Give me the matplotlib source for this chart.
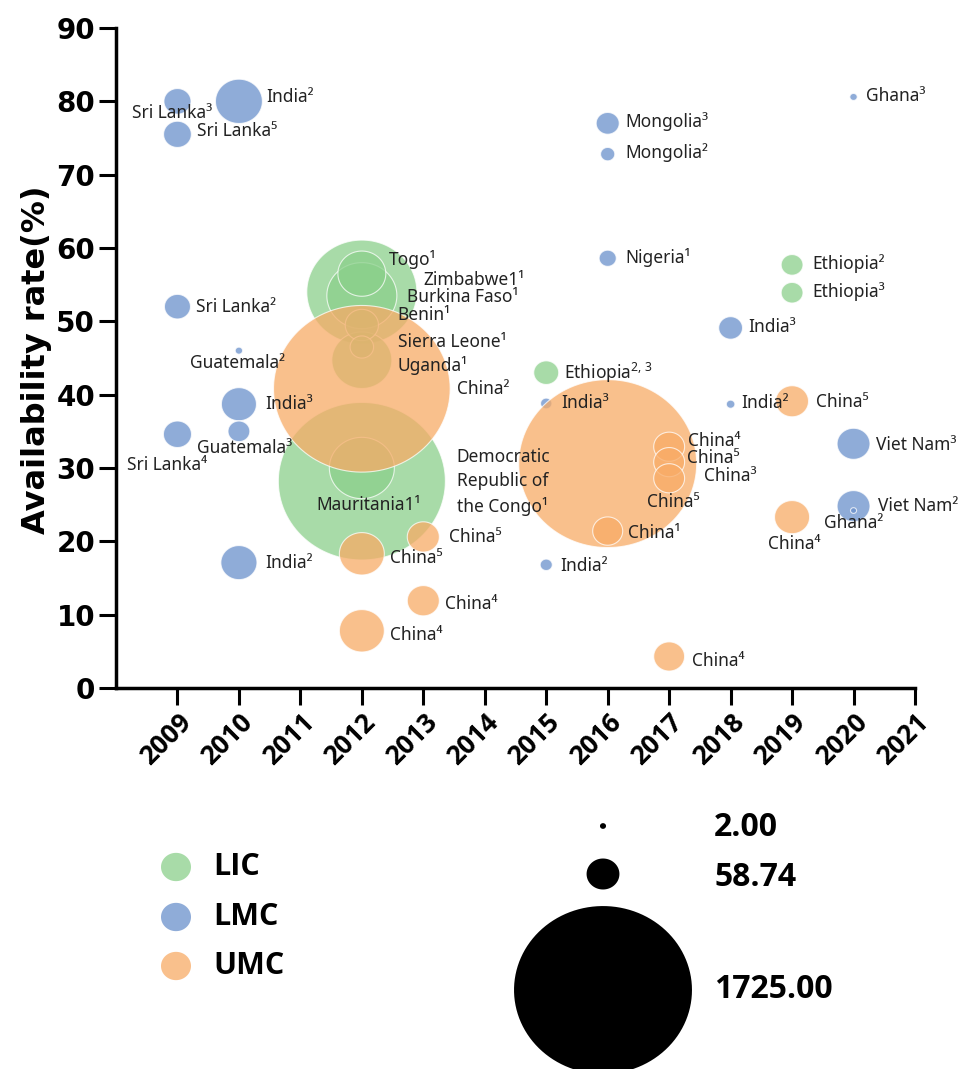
import numpy as np
import matplotlib
matplotlib.use("Agg")
import matplotlib.pyplot as plt
from matplotlib.path import Path

plt.rcParams['mathtext.fontset'] = 'custom'
plt.rcParams['mathtext.rm'] = 'Noto Sans'
plt.rcParams['mathtext.it'] = 'Noto Sans:italic'
plt.rcParams['mathtext.bf'] = 'Noto Sans:bold'

# ---------------- data ----------------
# Low-income countries (LIC)
lic_label = ['Democratic\nRepublic of\nthe Congo¹', 'Zimbabwe1¹', 'Burkina Faso¹',
             'Mauritania1¹', 'Uganda¹', 'Togo¹', 'Benin¹', 'Sierra Leone¹',
             r'Ethiopia$^{2,\,3}$', 'Ethiopia²', 'Ethiopia³']
lic_year = [2012, 2012, 2012, 2012, 2012, 2012, 2012, 2012, 2015, 2019, 2019]
lic_rate = [28.2, 54.0, 53.5, 30.0, 44.7, 56.5, 49.5, 46.5, 43.0, 57.7, 53.9]
lic_n = [1520, 660, 267, 230, 196, 125, 60, 30, 34, 26, 26]

# Lower-middle-income countries (LMC)
lmc_label = ['Sri Lanka³', 'India²', 'Sri Lanka⁵', 'Sri Lanka²', 'Guatemala²',
             'India³', 'Guatemala³', 'Sri Lanka⁴', 'India²', 'Mongolia³',
             'Mongolia²', 'Ghana³', 'Nigeria¹', 'India³', 'India³', 'India²',
             'India²', 'Viet Nam³', 'Viet Nam²', 'Ghana²']
lmc_year = [2009, 2010, 2009, 2009, 2010, 2010, 2010, 2009, 2010, 2016,
            2016, 2020, 2016, 2018, 2015, 2015, 2018, 2020, 2020, 2020]
lmc_rate = [80.0, 80.0, 75.5, 52.0, 46.0, 38.7, 35.0, 34.6, 17.1, 77.0,
            72.8, 80.6, 58.6, 49.1, 38.8, 16.8, 38.7, 33.3, 24.8, 24.2]
lmc_n = [40, 120, 42, 37, 3, 67, 26, 43, 71, 29,
         11, 3, 16, 31, 7, 8, 4, 59, 59, 2]

# Upper-middle-income countries (UMC)
umc_label = ['China²', 'China⁵', 'China⁴', 'China⁵', 'China⁴', 'China⁵',
             'China¹', 'China⁴', 'China⁵', 'China³', 'China⁴', 'China⁵', 'China⁴']
umc_year = [2012, 2012, 2012, 2013, 2013, 2016, 2016, 2017, 2017, 2017, 2017, 2019, 2019]
umc_rate = [40.8, 18.3, 7.8, 20.6, 11.9, 30.6, 21.4, 32.9, 30.8, 28.6, 4.3, 39.1, 23.3]
umc_n = [1700, 110, 110, 56, 56, 1725, 49, 52, 52, 52, 52, 59, 67]

groups = ['LIC', 'LMC', 'UMC']
size_legend_values = [2.00, 58.74, 1725.00]
year_ticks = list(range(2009, 2022))
rate_ticks = list(range(0, 91, 10))

# ---------------- label placement (pixel offsets from bubble centre) ----------------
lic_offsets = [(95, -1), (62, 12), (45, -1), (-45, -37), (36, -5), (27, 14),
               (36, 10), (36, 5), (18, 0), (20, 1), (20, 1)]
lmc_offsets = [(-45, -12), (27, 4), (20, 3), (19, 0), (-49, -12), (26, 0),
               (-42, -17), (-50, -31), (26, 0), (18, 2), (18, 2), (12, 1),
               (18, 1), (18, 1), (15, 0), (14, -1), (11, 1), (22, -1), (24, 0),
               (-30, -12)]
umc_offsets = [(95, 0), (28, -4), (28, -4), (26, 0), (22, -3), (39, -38),
               (20, -2), (19, 6), (18, 4), (35, 2), (23, -5), (24, -1), (-24, -27)]

# ---------------- style ----------------
colors = {'LIC': '#8BD08B', 'LMC': '#6A90CB', 'UMC': '#F8AB66'}
ALPHA = 0.75
PX_PER_SQRT = 4.285          # bubble width in pixels per sqrt(value)
DPI = 100
LABEL_FONT = ['Noto Sans', 'DejaVu Sans']


def bubble_area(v):
    w_pt = PX_PER_SQRT * np.sqrt(np.asarray(v, dtype=float)) * 72.0 / DPI
    return w_pt ** 2


# slightly wide ellipse marker
theta = np.linspace(0, 2 * np.pi, 120)
ell = Path(np.column_stack([np.cos(theta), np.sin(theta) / 1.06]), closed=True)

fig = plt.figure(figsize=(9.64, 10.69), dpi=DPI)
ax = fig.add_axes([116 / 964, 1 - 688 / 1069, (915 - 116) / 964, (688 - 28) / 1069])

data = {
    'LIC': (lic_label, lic_year, lic_rate, lic_n, lic_offsets),
    'LMC': (lmc_label, lmc_year, lmc_rate, lmc_n, lmc_offsets),
    'UMC': (umc_label, umc_year, umc_rate, umc_n, umc_offsets),
}

for z, g in enumerate(groups):
    lab, yr, rt, n, offs = data[g]
    ax.scatter(yr, rt, s=bubble_area(n), marker=ell, c=colors[g], alpha=ALPHA,
               edgecolors='white', linewidths=0.8, zorder=2 + z, clip_on=False)
    for t, x, y, (dx, dy) in zip(lab, yr, rt, offs):
        ax.annotate(t, (x, y), xytext=(dx, dy), textcoords='offset pixels',
                    ha='left', va='center', fontsize=12.5, family=LABEL_FONT,
                    color='#222222', zorder=10, linespacing=1.45)

ax.set_xlim(2008, 2021)
ax.set_ylim(0, 90)
for s in ('top', 'right'):
    ax.spines[s].set_visible(False)
for s in ('left', 'bottom'):
    ax.spines[s].set_linewidth(2.5)
ax.tick_params(direction='out', length=12, width=2.2, pad=3)
ax.set_yticks(rate_ticks)
ax.set_yticklabels([str(v) for v in rate_ticks], fontsize=20,
                   fontweight='bold', family='DejaVu Sans')
ax.set_xticks(year_ticks)
ax.set_xticklabels([str(v) for v in year_ticks], fontsize=19, fontweight='bold',
                   family='Open Sans', rotation=45, ha='right', va='top',
                   rotation_mode='anchor')
ax.set_ylabel('Availability rate(%)', fontsize=23, fontweight='bold',
              family='DejaVu Sans')
ax.yaxis.set_label_coords(-0.080, 0.497)

# ---------------- legends ----------------
lax = fig.add_axes([0, 0, 1, 1])
lax.set_xlim(0, 964)
lax.set_ylim(1069, 0)
lax.axis('off')

cat_y = [867, 917, 966]
for g, y in zip(groups, cat_y):
    lax.scatter([176], [y], s=(30 * 0.72) ** 2, marker=ell, c=colors[g],
                alpha=ALPHA, edgecolors='none')
    lax.text(213, y, g, fontsize=22, fontweight='bold', family='Open Sans',
             va='center', ha='left', color='black')

size_y = [826, 874, 990]
text_y = [827, 877, 989]
for v, y, ty in zip(size_legend_values, size_y, text_y):
    lax.scatter([603], [y], s=bubble_area(v), marker=ell, c='black',
                edgecolors='none', clip_on=True)
    lax.text(714, ty, f'{v:.2f}', fontsize=23, fontweight='bold',
             family='Open Sans', va='center', ha='left', color='black')

fig.savefig('out.png', dpi=DPI)
